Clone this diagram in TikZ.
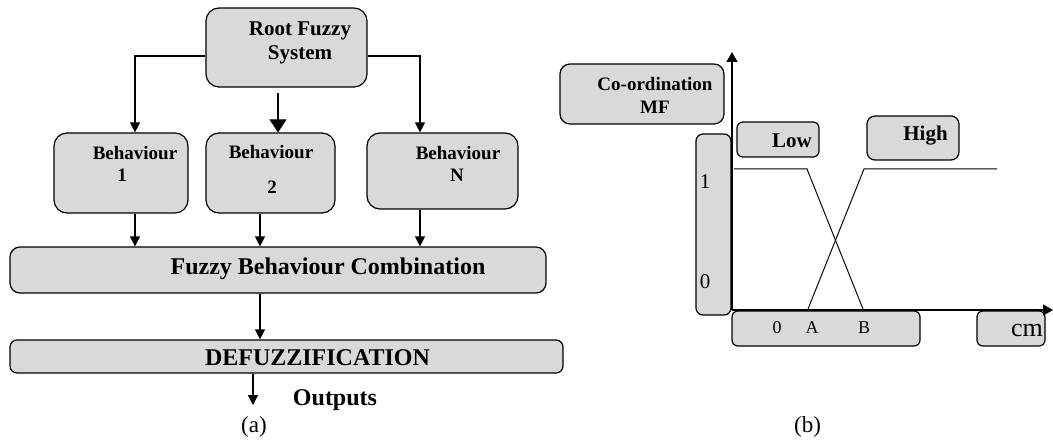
\documentclass[tikz,border=0pt]{standalone}
\usepackage{fontspec}
\setmainfont{Liberation Serif}
\usetikzlibrary{arrows.meta}
\definecolor{boxgray}{RGB}{217,217,217}
\tikzset{
  box/.style={draw=black, fill=boxgray, line width=1.2pt, rounded corners=13pt, inner sep=0pt},
  sbox/.style={box, rounded corners=6pt},
  txt/.style={inner sep=0pt, align=center},
  bigbf/.style={txt, font=\fontsize{24}{28}\selectfont\bfseries},
  midbf/.style={txt, font=\fontsize{21}{24.5}\selectfont\bfseries},
  smallbf/.style={txt, font=\fontsize{19}{23}\selectfont\bfseries},
  num/.style={txt, font=\fontsize{21}{24}\selectfont},
  arr/.style={-{Triangle[width=10pt,length=10pt]}, line width=1.2pt},
  bigarr/.style={-{Triangle[width=17pt,length=13pt]}, line width=1.2pt},
  axarr/.style={-{Triangle[width=11pt,length=10pt]}, line width=1.2pt},
  mf/.style={line width=1pt}
}
\begin{document}
\begin{tikzpicture}[x=1pt, y=-1pt]
\useasboundingbox (0,0) rectangle (1053,441);

% ---------- (a) hierarchical fuzzy controller ----------
\node[box, minimum width=161pt, minimum height=79pt] (root) at (286.5,47.5) {};
\node[midbf] at (300,43) {Root Fuzzy\\System};

\node[box, minimum width=134pt, minimum height=80pt] (b1) at (121,173) {};
\node[smallbf] at (135,153) {Behaviour};
\node[smallbf] at (122,175) {1};

\node[box, minimum width=129pt, minimum height=80pt] (b2) at (270.5,173) {};
\node[smallbf] at (271,152) {Behaviour};
\node[smallbf] at (272,187) {2};

\node[box, minimum width=151pt, minimum height=76pt] (bN) at (442.5,171) {};
\node[smallbf] at (458,153) {Behaviour};
\node[smallbf] at (457,175) {N};

\node[box, rounded corners=10pt, minimum width=536pt, minimum height=46pt] (comb) at (278,270) {};
\node[bigbf] at (328,269) {Fuzzy Behaviour Combination};

\node[box, rounded corners=7pt, minimum width=553pt, minimum height=33pt] (defz) at (286.5,356.5) {};
\node[bigbf] at (317.5,358) {DEFUZZIFICATION};

\coordinate (outend) at (253,405);
\node[bigbf] at (335,400) {Outputs};
\node[txt, font=\fontsize{23}{26}\selectfont] at (254,427) {(a)};

\draw[arr] ([yshift=-8.5pt]root.west) -| ([xshift=14pt]b1.north);
\draw[bigarr] ([xshift=-8.5pt,yshift=-5pt]root.south) -- ([xshift=7.5pt]b2.north);
\draw[arr] ([yshift=-8.5pt]root.east) -| ([xshift=-22.5pt]bN.north);

\draw[arr] ([xshift=14pt]b1.south) -- ([xshift=14pt]b1.south |- comb.north);
\draw[arr] ([xshift=-10.5pt]b2.south) -- ([xshift=-10.5pt]b2.south |- comb.north);
\draw[arr] ([xshift=-22.5pt]bN.south) -- ([xshift=-22.5pt]bN.south |- comb.north);
\draw[arr] ([xshift=-18pt]comb.south) -- ([xshift=-18pt]comb.south |- defz.north);
\draw[arr] ([xshift=-33.5pt]defz.south) -- (outend);

% ---------- (b) co-ordination membership functions ----------
\node[box, rounded corners=10pt, minimum width=164pt, minimum height=60pt] (coord) at (642,94) {};
\node[smallbf] at (655,95) {Co-ordination\\MF};

\node[sbox, rounded corners=7pt, minimum width=35pt, minimum height=181pt] (ybox) at (713.5,224.5) {};
\node[num] at (705,182) {1};
\node[num] at (705,282) {0};

\node[sbox, minimum width=82pt, minimum height=35pt] (low) at (778,139.5) {};
\node[midbf] at (792,141) {Low};

\node[sbox, rounded corners=8pt, minimum width=92pt, minimum height=44pt] (high) at (913,138) {};
\node[midbf] at (925.5,136) {High};

\node[sbox, minimum width=188pt, minimum height=35pt] (xbox) at (826,328.5) {};
\node[num, font=\fontsize{18}{21}\selectfont] at (777,328) {0};
\node[num, font=\fontsize{18}{21}\selectfont] at (812,328) {A};
\node[num, font=\fontsize{18}{21}\selectfont] at (864,328) {B};

\node[sbox, minimum width=68pt, minimum height=35pt] (cm) at (1011,328.5) {};
\node[num, font=\fontsize{26}{30}\selectfont] at (1027,331) {cm};

\node[txt, font=\fontsize{23}{26}\selectfont] at (807.5,427) {(b)};

% axes
\coordinate (O) at (732,310);
\coordinate (ytop) at (732,52);
\coordinate (xend) at (1053,310);
\draw[axarr] (O) -- (ytop);
\draw[axarr] (O) -- (xend);

% membership functions
\coordinate (l1) at (734,169);
\coordinate (l2) at (807,169);
\coordinate (l3) at (863,309);
\coordinate (h1) at (808,309);
\coordinate (h2) at (864,169);
\coordinate (h3) at (997,169);
\draw[mf] (l1) -- (l2) -- (l3);
\draw[mf] (h1) -- (h2) -- (h3);
\end{tikzpicture}
\end{document}
